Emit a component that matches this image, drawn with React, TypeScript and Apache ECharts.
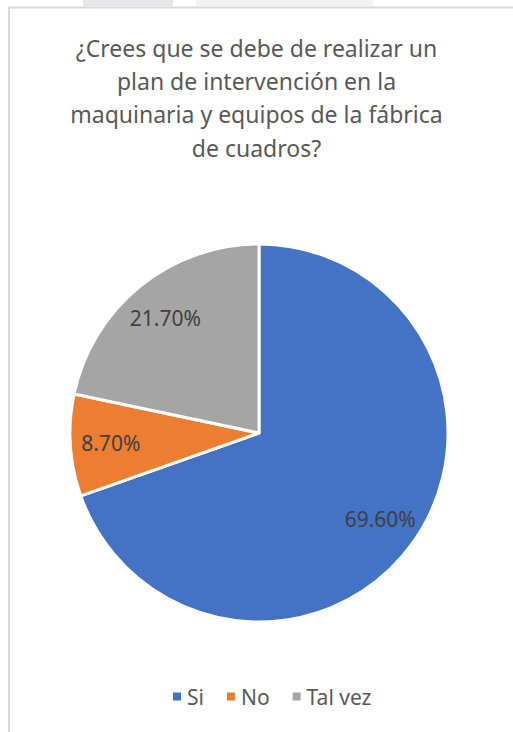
import React, { useEffect, useRef } from "react";
import * as echarts from "echarts";

const titleLines = [
  "¿Crees que se debe de realizar un",
  "plan de intervención en la",
  "maquinaria y equipos de la fábrica",
  "de cuadros?",
];
const categories = ["Si", "No", "Tal vez"];
const values = [69.6, 8.7, 21.7];
const labels = ["69.60%", "8.70%", "21.70%"];
const colors = ["#4472C4", "#ED7D31", "#A5A5A5"];

const FONT = "'Noto Sans', 'Open Sans', sans-serif";

export default function App() {
  const ref = useRef<HTMLDivElement>(null);
  useEffect(() => {
    if (!ref.current) return;
    const chart = echarts.init(ref.current, undefined, { renderer: "svg" });
    const center = [259, 433];
    const R = 189;
    chart.setOption({
      animation: false,
      backgroundColor: "#ffffff",
      graphic: [
        { type: "rect", z: 0, shape: { x: 83, y: 0, width: 90, height: 6 }, style: { fill: "#e6e6eb" } },
        { type: "rect", z: 0, shape: { x: 196, y: 0, width: 177, height: 6 }, style: { fill: "#f3f3f5" } },
        {
          type: "rect",
          z: 0,
          shape: { x: 9, y: 7.5, width: 620, height: 800 },
          style: { fill: "none", stroke: "#d9d9d9", lineWidth: 2 },
        },
      ],
      title: {
        text: titleLines.join("\n"),
        left: "center",
        top: 26,
        textStyle: {
          fontFamily: FONT,
          fontSize: 23,
          fontWeight: "normal",
          color: "#595959",
          lineHeight: 33.3,
        },
      },
      legend: {
        left: 166,
        top: 681,
        itemWidth: 10,
        itemHeight: 10,
        itemGap: 21,
        icon: "rect",
        data: categories.map((c, i) => ({ name: c, itemStyle: { color: colors[i] } })),
        textStyle: { fontFamily: FONT, fontSize: 21, color: "#595959" },
      },
      series: [
        {
          type: "pie",
          center,
          radius: [0, R],
          startAngle: 90,
          clockwise: true,
          silent: true,
          label: { show: false },
          labelLine: { show: false },
          itemStyle: { borderColor: "#ffffff", borderWidth: 3 },
          data: categories.map((c, i) => ({ name: c, value: values[i], itemStyle: { color: colors[i] } })),
        },
        {
          type: "pie",
          center,
          radius: [R * 0.54, R],
          startAngle: 90,
          clockwise: true,
          silent: true,
          itemStyle: { color: "transparent", borderWidth: 0 },
          labelLine: { show: false },
          label: {
            show: true,
            position: "inside",
            fontFamily: FONT,
            fontSize: 21,
            color: "#404040",
            formatter: (p: any) => labels[p.dataIndex],
          },
          data: categories.map((c, i) => ({ name: c, value: values[i] })),
        },
      ],
    });
    return () => chart.dispose();
  }, []);
  return (
    <div
      ref={ref}
      style={{ position: "fixed", left: 0, top: 0, width: 513, height: 732 }}
    />
  );
}
